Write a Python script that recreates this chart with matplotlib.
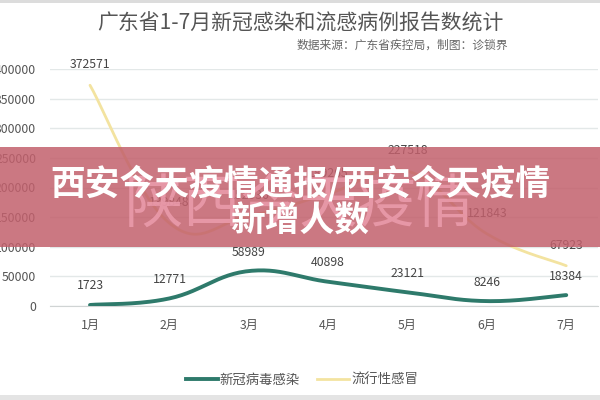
import numpy as np
import matplotlib
matplotlib.use("Agg")
import matplotlib.pyplot as plt
from matplotlib.patches import Rectangle
from matplotlib.lines import Line2D

plt.rcParams['font.family'] = ['Noto Sans CJK SC', 'DejaVu Sans']

months = ["1月", "2月", "3月", "4月", "5月", "6月", "7月"]
covid = [1723, 12771, 58989, 40898, 23121, 8246, 18384]
flu = [372571, 139848, 152036, 189265, 227518, 121843, 67923]
yticks = [0, 50000, 100000, 150000, 200000, 250000, 300000, 350000, 400000]

title = "广东省1-7月新冠感染和流感病例报告数统计"
subtitle = "数据来源：广东省疾控局，制图：诊锁界"
banner1 = "西安今天疫情通报/西安今天疫情"
banner2 = "新增人数"
watermark = "陕西今天疫情"

TEAL = "#2e7a6b"
YEL = "#f3e3a0"


def smooth(x, y, n=30, s=0.2):
    x = np.asarray(x, float)
    y = np.asarray(y, float)
    xs, ys = [], []
    m = len(x)
    for i in range(m - 1):
        p0 = np.array([x[i], y[i]])
        p3 = np.array([x[i + 1], y[i + 1]])
        prev = np.array([x[i - 1], y[i - 1]]) if i > 0 else p0
        nxt = np.array([x[i + 2], y[i + 2]]) if i + 2 < m else p3
        c1 = p0 + (p3 - prev) * s
        c2 = p3 - (nxt - p0) * s
        t = np.linspace(0, 1, n)[:, None]
        pts = (1 - t) ** 3 * p0 + 3 * (1 - t) ** 2 * t * c1 + 3 * (1 - t) * t ** 2 * c2 + t ** 3 * p3
        xs.extend(pts[:, 0])
        ys.extend(pts[:, 1])
    return np.array(xs), np.array(ys)


fig = plt.figure(figsize=(6, 4), dpi=100)
fig.patch.set_facecolor("white")

ax = fig.add_axes([50 / 600, 94 / 400, 548 / 600, 237 / 400])
x = np.arange(len(months))

ax.set_xlim(-0.504, 6.4)
ax.set_ylim(0, 400000)
ax.set_yticks(yticks)
ax.set_yticklabels([str(v) for v in yticks])
ax.set_xticks(x)
ax.set_xticklabels(months)
ax.grid(axis="y", color="#e3e8e8", linewidth=1.0)
ax.set_axisbelow(True)
for sp in ["top", "right", "left"]:
    ax.spines[sp].set_visible(False)
ax.spines["bottom"].set_color("#d0d4d4")
ax.tick_params(axis="both", length=0, colors="#555555", labelsize=8.8)
ax.tick_params(axis="y", pad=10)
ax.tick_params(axis="x", pad=9)

fx, fy = smooth(x, flu)
ax.plot(fx, fy, color=YEL, linewidth=2.0, solid_capstyle="round", zorder=3)
cx, cy = smooth(x, covid)
ax.plot(cx, cy, color=TEAL, linewidth=2.8, solid_capstyle="round", zorder=4)

for xi, v in zip(x, flu):
    ax.annotate(str(v), (xi, v), xytext=(0, 10), textcoords="offset points",
                ha="center", va="bottom", fontsize=8.8, color="#444444", zorder=5)
for xi, v in zip(x, covid):
    ax.annotate(str(v), (xi, v), xytext=(0, 9), textcoords="offset points",
                ha="center", va="bottom", fontsize=8.8, color="#444444", zorder=5)

# legend
handles = [Line2D([], [], color=TEAL, linewidth=2.8),
           Line2D([], [], color=YEL, linewidth=2.0)]
leg = fig.legend(handles, ["新冠病毒感染", "流行性感冒"], loc="center",
                 bbox_to_anchor=(302 / 600, 1 - 380 / 400), ncol=2, frameon=False,
                 fontsize=9.6, handlelength=2.4, handletextpad=0.15, columnspacing=1.3)
for t in leg.get_texts():
    t.set_color("#555555")

# titles
fig.text(300 / 600, 1 - 24 / 400, title, ha="center", va="center", fontsize=15, color="#555555")
fig.text(508 / 600, 1 - 45 / 400, subtitle, ha="right", va="center", fontsize=8.5, color="#666666")

# frame strips
fig.patches.append(Rectangle((0, 1 - 3 / 400), 1, 3 / 400, transform=fig.transFigure,
                             facecolor="#dcdcdc", edgecolor="none", zorder=5))
fig.patches.append(Rectangle((0, 0), 1, 5 / 400, transform=fig.transFigure,
                             facecolor="#e4e4e4", edgecolor="none", zorder=5))

# banner overlay
fig.patches.append(Rectangle((0, 1 - 247 / 400), 1, 100 / 400, transform=fig.transFigure,
                             facecolor="#c2606c", alpha=0.85, edgecolor="none", zorder=5))
fig.text(300 / 600, 1 - 205 / 400, watermark, ha="center", va="center", fontsize=42,
         color="#ee9fb0", alpha=0.8, zorder=6)
fig.text(300 / 600, 1 - 183 / 400, banner1, ha="center", va="center", fontsize=25,
         fontweight="bold", color="white", zorder=7)
fig.text(300 / 600, 1 - 221 / 400, banner2, ha="center", va="center", fontsize=25,
         fontweight="bold", color="white", zorder=7)

fig.savefig("out.png", dpi=100)
